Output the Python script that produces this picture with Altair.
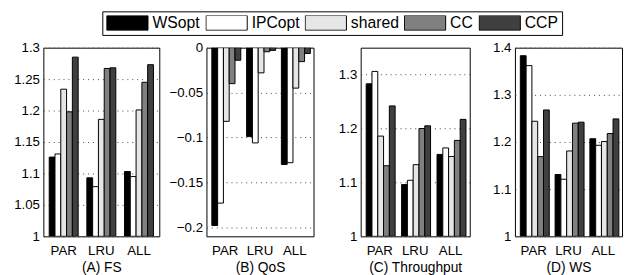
import altair as alt
import pandas as pd

series = ["WSopt", "IPCopt", "shared", "CC", "CCP"]
colors = ["#000000", "#ffffff", "#e6e6e6", "#808080", "#404040"]
groups = ["PAR", "LRU", "ALL"]

fs_par = [1.126, 1.131, 1.234, 1.198, 1.285]
fs_lru = [1.093, 1.079, 1.186, 1.267, 1.268]
fs_all = [1.103, 1.095, 1.201, 1.245, 1.273]

qos_par = [-0.198, -0.173, -0.082, -0.040, -0.014]
qos_lru = [-0.099, -0.106, -0.028, -0.0045, -0.003]
qos_all = [-0.130, -0.128, -0.045, -0.0155, -0.0065]

tp_par = [1.283, 1.306, 1.186, 1.131, 1.242]
tp_lru = [1.096, 1.104, 1.133, 1.200, 1.205]
tp_all = [1.152, 1.164, 1.148, 1.178, 1.217]

ws_par = [1.383, 1.362, 1.244, 1.169, 1.268]
ws_lru = [1.131, 1.121, 1.181, 1.240, 1.242]
ws_all = [1.207, 1.193, 1.201, 1.218, 1.249]

fs_ticks = [1, 1.05, 1.1, 1.15, 1.2, 1.25, 1.3]
qos_ticks = [-0.2, -0.15, -0.1, -0.05, 0]
tp_ticks = [1, 1.1, 1.2, 1.3]
ws_ticks = [1, 1.1, 1.2, 1.3, 1.4]

FONT = "Liberation Sans"
SWATCH = "M-1,-0.357L1,-0.357L1,0.357L-1,0.357Z"

legend = alt.Legend(
    title=None, orient="none", legendX=60, legendY=-37, direction="horizontal",
    symbolType=SWATCH, symbolSize=1764, symbolStrokeColor="black", symbolStrokeWidth=1,
    clipHeight=15,
    labelFontSize=16, labelFont=FONT, labelColor="black", labelOffset=4,
    columnPadding=5, padding=4, strokeColor="black", fillColor="white",
    labelLimit=300, symbolOffset=0,
)


def panel(vals, title, domain, ticks, base, width, extent):
    rows = []
    for g, v in zip(groups, vals):
        for s, val in zip(series, v):
            rows.append({"group": g, "series": s, "value": val})
    df = pd.DataFrame(rows)
    return alt.Chart(df).mark_bar(stroke="black", strokeWidth=1, clip=True).encode(
        x=alt.X("group:N", sort=groups,
                scale=alt.Scale(paddingInner=0.231, paddingOuter=0.155),
                axis=alt.Axis(title=title, labelAngle=0, labelPadding=8, titlePadding=3)),
        xOffset=alt.XOffset("series:N", sort=series,
                            scale=alt.Scale(paddingInner=0, paddingOuter=0)),
        y=alt.Y("value:Q", scale=alt.Scale(domain=domain, zero=False, nice=False),
                axis=alt.Axis(values=ticks, format="~g", title=None, grid=True,
                              labelPadding=4, minExtent=extent, maxExtent=extent)),
        y2=alt.datum(base),
        fill=alt.Fill("series:N", sort=series,
                      scale=alt.Scale(domain=series, range=colors), legend=legend),
    ).properties(width=width, height=192)


a = panel([fs_par, fs_lru, fs_all], "(A) FS", [1, 1.3], fs_ticks, 1, 118, 32)
b = panel([qos_par, qos_lru, qos_all], "(B) QoS", [-0.21, 0], qos_ticks, 0, 109, 39)
c = panel([tp_par, tp_lru, tp_all], "(C) Throughput", [1, 1.35], tp_ticks, 1, 111, 39)
d = panel([ws_par, ws_lru, ws_all], "(D) WS", [1, 1.4], ws_ticks, 1, 109, 37)

chart = alt.hconcat(a, b, c, d, spacing=7).properties(
    padding={"left": 3, "top": 0, "right": 0, "bottom": 0}
).configure_view(
    stroke="black", strokeWidth=1
).configure_axis(
    domain=False, ticks=False, tickSize=0,
    labelFont=FONT, labelFontSize=13.5, labelColor="black",
    titleFont=FONT, titleFontSize=14, titleFontWeight="normal", titleColor="black",
    gridColor="#444444", gridDash=[1, 4], gridWidth=1,
)

chart.save("out.html", embed_options={"renderer": "svg", "actions": False})
